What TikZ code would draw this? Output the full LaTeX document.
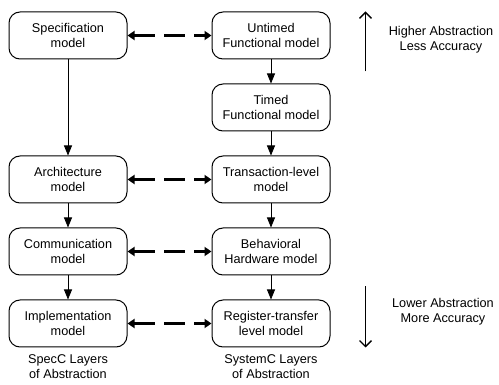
\documentclass[tikz,border=0pt]{standalone}
\usepackage{fontspec}
\setmainfont{Liberation Sans}
\usetikzlibrary{arrows.meta,positioning}

\begin{document}
\begin{tikzpicture}[
  x=1pt, y=1pt,
  model/.style={rectangle, rounded corners=11pt, draw, line width=1pt,
                minimum width=118pt, minimum height=47pt, align=center,
                font=\fontsize{12.7}{15}\selectfont, inner sep=2pt},
  flow/.style={-{Triangle[width=8pt,length=10pt]}, line width=0.8pt},
  link/.style={{Triangle[width=9pt,length=7pt]}-{Triangle[width=9pt,length=7pt]},
               line width=2.8pt, dash pattern=on 21pt off 9pt},
  trend/.style={-{Straight Barb[width=12pt,length=6pt]}, line width=1.3pt},
  note/.style={align=center, font=\fontsize{12.7}{15}\selectfont},
  node distance=24pt and 84pt
]
  \useasboundingbox (0,0) rectangle (499,-385);

  % SystemC column
  \node[model] (UF) at (271,-35.5) {Untimed\\Functional model};
  \node[model, below=of UF] (TF) {Timed\\Functional model};
  \node[model, below=of TF] (TL) {Transaction-level\\model};
  \node[model, below=of TL] (BH) {Behavioral\\Hardware model};
  \node[model, below=of BH] (RT) {Register-transfer\\level model};

  % SpecC column
  \node[model, left=of UF] (SP) {Specification\\model};
  \node[model, left=of TL] (AR) {Architecture\\model};
  \node[model, left=of BH] (CM) {Communication\\model};
  \node[model, left=of RT] (IM) {Implementation\\model};

  \foreach \a/\b in {SP/AR, AR/CM, CM/IM, UF/TF, TF/TL, TL/BH, BH/RT}
    \draw[flow] (\a.south) -- (\b.north);

  \foreach \a/\b in {SP/UF, AR/TL, CM/BH, IM/RT}
    \draw[link] (\a.east) -- (\b.west);

  % Abstraction trend
  \coordinate[right=35pt of UF.north east] (hiTop);
  \coordinate[below=60pt of hiTop] (hiBot);
  \draw[trend] (hiBot) -- (hiTop);
  \node[note] (hiNote) at (441,-40) {Higher Abstraction\\Less Accuracy};

  \coordinate[right=35pt of RT.south east] (loBot);
  \coordinate[above=61pt of loBot] (loTop);
  \draw[trend] (loTop) -- (loBot);
  \node[note] (loNote) at (443,-312) {Lower Abstraction\\More Accuracy};

  % Column captions
  \node[note, below=6pt of IM, inner sep=1pt] (specCap) {SpecC Layers\\of Abstraction};
  \node[note, below=6pt of RT, inner sep=1pt] (sysCap) {SystemC Layers\\of Abstraction};
\end{tikzpicture}
\end{document}
